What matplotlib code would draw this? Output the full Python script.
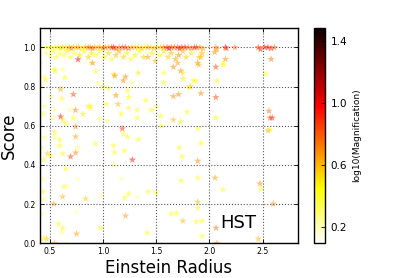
import matplotlib
matplotlib.use("Agg")
import matplotlib.pyplot as plt
import numpy as np

# ---------------- data ----------------
# points sitting on the score = 1.0 ridge: (radius, log10 magnification)
band_radius = [0.44, 0.47, 0.50, 0.52, 0.55, 0.58, 0.60, 0.62, 0.65, 0.68,
               0.70, 0.72, 0.75, 0.77, 0.80, 0.83, 0.86, 0.88, 0.90, 0.92,
               0.95, 0.97, 1.00, 1.02, 1.05, 1.08, 1.10, 1.12, 1.15, 1.18,
               1.21, 1.24, 1.27, 1.30, 1.33, 1.36, 1.39, 1.42, 1.45, 1.48,
               1.51, 1.54, 1.57, 1.60, 1.62, 1.64, 1.67, 1.70, 1.72, 1.74,
               1.77, 1.80, 1.83, 1.86, 1.88, 1.91, 1.94, 2.06, 2.07, 2.15,
               2.16, 2.24, 2.46, 2.48, 2.52, 2.55, 2.58, 2.61]
band_score = [1.0, 1.0, 1.0, 0.995, 1.0, 1.0, 0.995, 1.0, 1.0, 1.0,
              0.995, 1.0, 1.0, 1.0, 0.995, 1.0, 1.0, 1.0, 0.995, 1.0,
              1.0, 1.0, 0.995, 1.0, 1.0, 1.0, 1.0, 0.995, 1.0, 1.0,
              1.0, 0.995, 1.0, 1.0, 1.0, 0.995, 1.0, 1.0, 1.0, 0.995,
              1.0, 1.0, 1.0, 1.0, 0.995, 1.0, 1.0, 1.0, 0.995, 1.0,
              1.0, 1.0, 0.995, 1.0, 1.0, 1.0, 0.995, 1.0, 0.99, 1.0,
              0.995, 1.0, 1.0, 0.99, 1.0, 1.0, 0.995, 1.0]
band_logmag = [0.30, 0.35, 0.40, 0.30, 0.45, 0.50, 0.50, 0.55, 0.50, 0.65,
               0.70, 0.60, 0.55, 0.65, 0.50, 0.60, 0.75, 0.70, 0.80, 0.65,
               0.55, 0.65, 0.70, 0.75, 0.65, 0.85, 0.95, 0.80, 0.75, 0.85,
               0.90, 0.75, 0.65, 0.60, 0.55, 0.60, 0.50, 0.65, 0.55, 0.60,
               0.50, 0.55, 0.75, 0.90, 1.05, 0.85, 0.80, 0.85, 0.95, 0.90,
               0.95, 0.80, 0.75, 0.90, 0.85, 0.70, 0.65, 0.70, 0.65, 0.95,
               0.85, 0.75, 0.85, 0.90, 0.90, 0.95, 0.90, 0.80]

# scattered points below the ridge
radius = [0.46, 0.50, 0.53, 0.56, 0.59, 0.63, 0.66, 0.69, 0.73, 0.78,
          0.82, 0.86, 0.89, 0.93, 0.97, 1.01, 1.05, 1.08, 1.12, 1.15,
          1.19, 1.22, 1.26, 1.30, 1.34, 1.38, 1.42, 1.46, 1.49, 1.53,
          1.57, 1.61, 1.64, 1.68, 1.71, 1.75, 1.78, 1.83, 1.90, 1.93,
          0.764, 0.54, 0.64, 0.46, 0.62, 0.89, 0.93, 1.10, 1.21, 1.00,
          0.55, 0.90, 1.11, 1.19, 1.27, 1.33, 1.57, 1.57, 1.66, 1.70,
          1.73, 1.75, 1.75, 1.82, 1.85, 1.89, 1.90, 1.92, 1.87, 1.81,
          2.05, 2.15, 2.13, 2.13, 2.06, 2.07, 2.58, 2.53, 0.44, 0.41,
          0.60, 0.61, 0.72, 0.88, 1.03, 1.14, 0.74, 0.60, 0.62, 0.74,
          1.17, 0.45, 0.51, 1.40, 1.45, 1.50, 1.54, 1.32, 1.24, 1.32,
          1.18, 1.66, 1.71, 1.92, 1.79, 1.89, 2.06, 2.06, 2.56, 2.57,
          2.59, 2.57, 2.55, 1.66, 1.73, 1.55, 0.54, 0.53, 0.44, 0.69,
          0.72, 0.65, 0.81, 0.86, 0.88, 0.97, 1.04, 0.95, 1.05, 1.23,
          1.24, 1.12, 0.42, 0.41,
          0.544, 0.544, 0.591, 0.591, 0.619, 0.741, 0.694, 0.741, 0.760, 0.441,
          0.478, 0.507, 0.413, 0.45, 0.647, 0.928, 1.097, 1.106, 1.097, 1.200,
          1.228, 1.19, 1.331, 1.275, 1.172, 0.760, 0.628, 0.656, 0.619, 0.432,
          0.441, 0.535, 0.835, 0.985, 1.200, 1.238, 1.322, 1.425, 1.50, 0.75,
          0.58, 0.62, 0.61, 0.75, 0.975, 0.44, 0.47, 0.41, 0.544, 0.656,
          1.21, 1.416, 1.715, 1.744, 1.92, 1.89, 1.734, 1.89, 1.89, 1.89,
          1.64, 1.69, 1.75, 1.875, 1.93, 1.93, 2.053, 2.128, 2.475, 2.485,
          2.60, 2.062, 2.07, 2.46, 0.43, 0.42]
score = [0.97, 0.96, 0.98, 0.95, 0.97, 0.96, 0.98, 0.95, 0.97, 0.96,
         0.98, 0.95, 0.97, 0.96, 0.98, 0.95, 0.97, 0.94, 0.96, 0.98,
         0.95, 0.97, 0.94, 0.96, 0.98, 0.95, 0.95, 0.97, 0.93, 0.96,
         0.98, 0.95, 0.97, 0.94, 0.96, 0.98, 0.95, 0.97, 0.95, 0.97,
         0.938, 0.887, 0.846, 0.836, 0.887, 0.923, 0.877, 0.862, 0.85, 0.80,
         0.88, 0.92, 0.855, 0.83, 0.82, 0.87, 0.87, 0.82, 0.90, 0.92,
         0.88, 0.87, 0.84, 0.80, 0.83, 0.92, 0.91, 0.95, 0.83, 0.795,
         0.975, 0.94, 0.92, 0.91, 0.90, 0.83, 0.94, 0.865, 0.85, 0.92,
         0.785, 0.74, 0.76, 0.70, 0.71, 0.71, 0.68, 0.646, 0.63, 0.595,
         0.66, 0.70, 0.75, 0.73, 0.68, 0.70, 0.65, 0.68, 0.69, 0.64,
         0.585, 0.75, 0.76, 0.765, 0.67, 0.585, 0.745, 0.64, 0.675, 0.64,
         0.64, 0.58, 0.575, 0.63, 0.62, 0.60, 0.68, 0.64, 0.66, 0.68,
         0.64, 0.61, 0.66, 0.70, 0.69, 0.635, 0.625, 0.815, 0.79, 0.78,
         0.745, 0.755, 0.80, 0.66,
         0.565, 0.539, 0.529, 0.498, 0.457, 0.544, 0.442, 0.462, 0.488, 0.427,
         0.457, 0.447, 0.488, 0.54, 0.380, 0.508, 0.498, 0.462, 0.401, 0.473,
         0.544, 0.56, 0.529, 0.426, 0.329, 0.329, 0.288, 0.293, 0.237, 0.263,
         0.227, 0.201, 0.227, 0.242, 0.232, 0.252, 0.237, 0.263, 0.258, 0.16,
         0.099, 0.078, 0.053, 0.048, 0.078, 0.027, 0.022, 0.012, 0.0, 0.0,
         0.14, 0.053, 0.488, 0.442, 0.51, 0.42, 0.319, 0.334, 0.211, 0.18,
         0.15, 0.155, 0.114, 0.109, 0.114, 0.037, 0.334, 0.273, 0.304, 0.278,
         0.201, 0.078, 0.0, 0.022, 0.33, 0.15]
logmag = [0.30, 0.35, 0.40, 0.45, 0.35, 0.40, 0.50, 0.45, 0.40, 0.50,
          0.45, 0.55, 0.50, 0.45, 0.40, 0.50, 0.55, 0.45, 0.60, 0.65,
          0.55, 0.50, 0.45, 0.50, 0.45, 0.55, 0.65, 0.50, 0.60, 0.45,
          0.50, 0.55, 0.60, 0.65, 0.70, 0.60, 0.55, 0.50, 0.55, 0.60,
          1.00, 0.45, 0.45, 0.45, 0.30, 0.25, 0.45, 0.50, 0.70, 0.45,
          0.45, 0.70, 0.70, 0.70, 0.30, 0.50, 0.45, 0.45, 0.70, 0.65,
          0.70, 0.50, 0.50, 0.60, 0.45, 0.70, 0.60, 0.60, 0.45, 0.45,
          0.70, 0.70, 0.45, 0.45, 0.85, 0.45, 0.75, 0.45, 0.30, 0.30,
          0.60, 0.45, 0.85, 0.45, 0.45, 0.60, 0.70, 0.95, 0.50, 0.70,
          0.45, 0.30, 0.30, 0.45, 0.45, 0.45, 0.45, 0.45, 0.45, 0.45,
          0.90, 0.70, 0.70, 0.70, 0.45, 0.45, 0.85, 0.45, 0.75, 0.85,
          0.90, 0.45, 0.60, 0.60, 0.50, 0.45, 0.30, 0.30, 0.30, 0.30,
          0.45, 0.45, 0.50, 0.45, 0.45, 0.35, 0.30, 0.30, 0.45, 0.45,
          0.45, 0.70, 0.30, 0.30,
          0.45, 0.30, 0.45, 0.45, 0.45, 0.65, 0.85, 0.70, 0.30, 0.40,
          0.55, 0.45, 0.45, 0.30, 0.45, 0.45, 0.45, 0.45, 0.30, 0.45,
          0.45, 0.40, 0.45, 0.95, 0.25, 0.25, 0.40, 0.30, 0.60, 0.45,
          0.30, 0.65, 0.55, 0.25, 0.45, 0.45, 0.25, 0.45, 0.45, 0.25,
          0.45, 0.45, 0.30, 0.65, 0.45, 0.45, 0.55, 0.40, 0.65, 0.25,
          0.65, 0.45, 0.45, 0.45, 0.45, 0.70, 0.45, 0.45, 0.60, 0.45,
          0.45, 0.45, 0.60, 0.45, 0.45, 0.45, 0.65, 0.45, 0.70, 0.45,
          0.70, 0.75, 0.70, 0.60, 0.30, 0.30]

all_r = band_radius + radius
all_s = band_score + score
all_c = band_logmag + logmag

# ---------------- plot ----------------
fig = plt.figure(figsize=(3.95, 2.78), dpi=100)
ax = fig.add_axes([0.101, 0.125, 0.654, 0.775])
cax = fig.add_axes([0.795, 0.125, 0.029, 0.775])

sc = ax.scatter(all_r, all_s, c=all_c, cmap="hot_r", vmin=0.093, vmax=1.484,
                marker="*", s=32, alpha=0.5, edgecolors="none")

ax.set_xlim(0.405, 2.835)
ax.set_ylim(0.0, 1.1)
ax.set_xticks([0.5, 1.0, 1.5, 2.0, 2.5])
ax.set_yticks([0.0, 0.2, 0.4, 0.6, 0.8, 1.0])
ax.grid(True, linestyle=":", color="0.35", linewidth=0.8)
ax.tick_params(direction="in", top=True, right=True, labelsize=5.6,
               length=3, width=0.6, pad=3)
for sp in ax.spines.values():
    sp.set_linewidth(1.0)

ax.set_xlabel("Einstein Radius", fontsize=12, labelpad=2)
ax.set_ylabel("Score", fontsize=12, labelpad=4)
ax.text(2.106, 0.078, "HST", fontsize=13)

cb = fig.colorbar(sc, cax=cax)
cb.solids.set_alpha(1)
cb.set_ticks([0.2, 0.6, 1.0, 1.4])
cb.ax.tick_params(direction="in", labelsize=7.5, length=3, width=0.6)
cb.set_label("log10(Magnification)", fontsize=6.5, labelpad=4)
cb.outline.set_linewidth(1.0)

fig.savefig("out.png", dpi=100)
